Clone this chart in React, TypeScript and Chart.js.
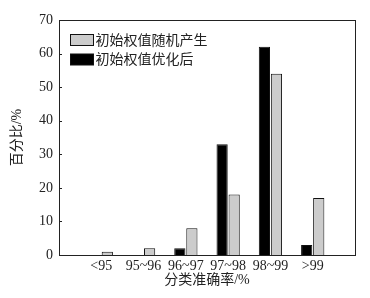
import React, { useEffect, useRef } from "react";
import { Chart, registerables } from "chart.js";

Chart.register(...registerables);

const categories = ["", "<95", "95~96", "96~97", "97~98", "98~99", ">99", ""];
const randomInit = [null, 1, 2, 8, 18, 54, 17, null];
const optimizedInit = [null, 0, 0, 2, 33, 62, 3, null];
const yTicks = [0, 10, 20, 30, 40, 50, 60, 70];

const serif = '"Liberation Serif", "Noto Sans CJK SC", serif';
const textColor = "#222";

const framePlugin = {
  id: "frame",
  afterDraw(chart: any) {
    const { ctx, chartArea } = chart;
    const y = chart.scales.y;
    ctx.save();
    ctx.strokeStyle = "#222";
    ctx.lineWidth = 1;
    ctx.strokeRect(
      Math.round(chartArea.left) + 0.5,
      Math.round(chartArea.top) + 0.5,
      Math.round(chartArea.right - chartArea.left),
      Math.round(chartArea.bottom - chartArea.top)
    );
    ctx.beginPath();
    yTicks.forEach((v) => {
      const py = Math.round(y.getPixelForValue(v)) + 0.5;
      ctx.moveTo(chartArea.left, py);
      ctx.lineTo(chartArea.left + 3, py);
    });
    ctx.stroke();

    // legend inside the plot area, top-left, one item per row
    const items = chart.data.datasets.slice().reverse();
    const bx = chartArea.left + 11.5;
    let by = chartArea.top + 14.5;
    ctx.font = `14px ${serif}`;
    ctx.textBaseline = "middle";
    ctx.textAlign = "left";
    items.forEach((ds: any) => {
      ctx.fillStyle = ds.backgroundColor;
      ctx.fillRect(bx, by, 23, 11);
      ctx.strokeStyle = "#111";
      ctx.strokeRect(bx, by, 23, 11);
      ctx.fillStyle = textColor;
      ctx.fillText(ds.label, bx + 25, by + 6.5);
      by += 19.5;
    });
    ctx.restore();
  },
};

export default function App() {
  const ref = useRef<HTMLCanvasElement>(null);
  useEffect(() => {
    const chart = new Chart(ref.current!, {
      type: "bar",
      data: {
        labels: categories,
        datasets: [
          {
            label: "初始权值优化后",
            data: optimizedInit as any,
            backgroundColor: "#000000",
            borderColor: "#111",
            borderWidth: 1,
          },
          {
            label: "初始权值随机产生",
            data: randomInit as any,
            backgroundColor: "#cccccc",
            borderColor: "#111",
            borderWidth: 1,
          },
        ],
      },
      options: {
        responsive: true,
        maintainAspectRatio: false,
        animation: false,
        datasets: { bar: { categoryPercentage: 0.57, barPercentage: 0.93 } },
        layout: { padding: { top: 20, right: 15, left: 0, bottom: 0 } },
        plugins: {
          tooltip: { enabled: false },
          legend: { display: false },
        },
        scales: {
          x: {
            offset: false,
            grid: { display: false, drawTicks: false },
            border: { display: true, color: "#222" },
            ticks: {
              autoSkip: false,
              maxRotation: 0,
              padding: 3,
              color: textColor,
              font: { family: serif, size: 14 },
            },
            title: {
              display: true,
              text: "分类准确率/%",
              color: textColor,
              font: { family: serif, size: 14 },
              padding: { top: 0, bottom: 9 },
            },
            afterFit: (s: any) => {
              s.height = 43;
            },
          },
          y: {
            min: 0,
            max: 70,
            grid: { display: false, drawTicks: false },
            border: { display: true, color: "#222" },
            ticks: {
              stepSize: 10,
              padding: 6,
              color: textColor,
              font: { family: serif, size: 14 },
            },
            title: {
              display: true,
              text: "百分比/%",
              color: textColor,
              font: { family: serif, size: 14 },
              padding: { top: 9, bottom: 0 },
            },
            afterFit: (s: any) => {
              s.width = 59;
            },
          },
        },
      },
      plugins: [framePlugin],
    });
    return () => chart.destroy();
  }, []);
  return (
    <div style={{ position: "fixed", left: 0, top: 0, width: 370, height: 298, background: "#fff" }}>
      <canvas ref={ref} />
    </div>
  );
}
